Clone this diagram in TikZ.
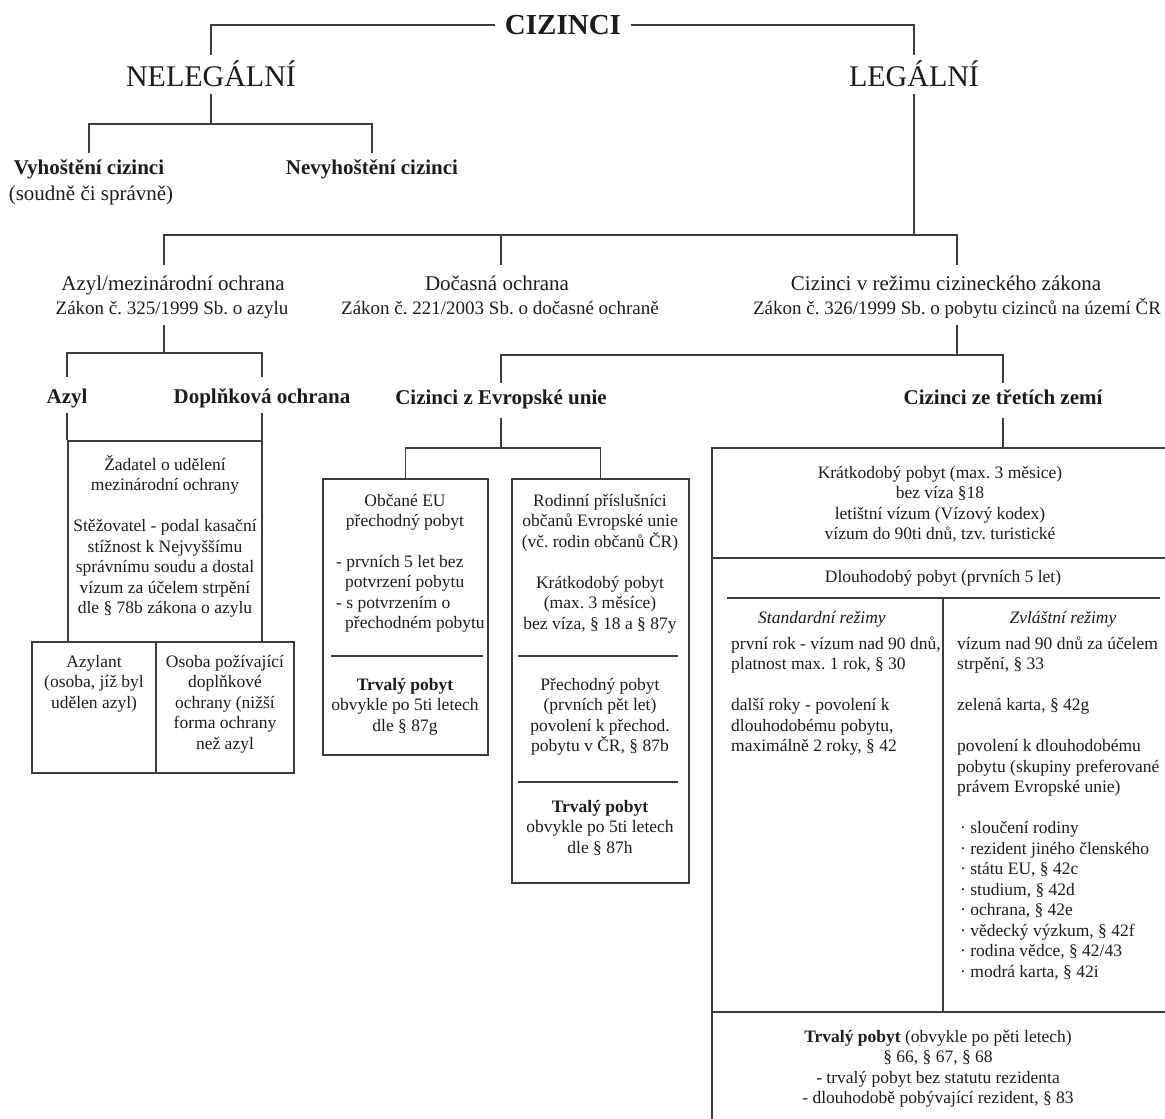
\documentclass[tikz,border=0pt]{standalone}
\usepackage{fontspec}
\setmainfont{Liberation Serif}
\frenchspacing
\newcommand{\mystrut}{\rule{0pt}{17pt}}
\definecolor{ln}{RGB}{60,60,60}
\definecolor{tx}{RGB}{28,28,28}
\begin{document}
\begin{tikzpicture}[x=1pt,y=-1pt,
  every node/.style={text=tx, inner sep=0pt},
  conn/.style={draw=ln, line width=1.5pt},
  box/.style={draw=ln, line width=1.5pt, rectangle, inner sep=0pt},
  body/.style={font=\fontsize{17.5}{20.5}\selectfont, align=center, anchor=north},
  bodyl/.style={font=\fontsize{17.5}{20.5}\selectfont, align=left, anchor=north west},
  huge/.style={font=\fontsize{30}{34}\selectfont, anchor=base, text height=31pt, text depth=8pt},
  hbold/.style={font=\fontsize{21}{25}\selectfont\bfseries, anchor=base},
  hreg/.style={font=\fontsize{21}{25}\selectfont, anchor=base},
  hlaw/.style={font=\fontsize{19}{23}\selectfont, anchor=base}
]
\useasboundingbox (0,0) rectangle (1165,1119);

% level 0/1
\node[font=\fontsize{29}{33}\selectfont\bfseries, anchor=center, text height=19.2pt, text depth=0pt, inner xsep=9.5pt] (ciz) at (563,25) {CIZINCI};
\node[huge] (nel) at (211,86) {NELEGÁLNÍ};
\node[huge] (leg) at (914,86) {LEGÁLNÍ};

% nelegalni
\node[hbold, text height=21pt, text depth=5pt] (vyh) at (89,174) {Vyhoštění cizinci};
\node[hreg] (vyh2) at (91,200) {(soudně či správně)};
\node[hbold, text height=21pt, text depth=5pt] (nevyh) at (372,174) {Nevyhoštění cizinci};

% level 3
\node[hreg, text height=25pt, text depth=5pt] (azh) at (173,290) {Azyl/mezinárodní ochrana};
\node[hlaw, text height=14pt, text depth=11pt] (azlaw) at (172,314) {Zákon č. 325/1999 Sb. o azylu};
\node[hreg, text height=25pt, text depth=5pt] (doc) at (497,290) {Dočasná ochrana};
\node[hlaw, text height=14pt, text depth=5pt] (doclaw) at (500,314) {Zákon č. 221/2003 Sb. o dočasné ochraně};
\node[hreg, text height=25pt, text depth=5pt] (cvr) at (946,290) {Cizinci v režimu cizineckého zákona};
\node[hlaw, text height=14pt, text depth=11pt] (cvrlaw) at (957,314) {Zákon č. 326/1999 Sb. o pobytu cizinců na území ČR};

% level 4
\node[hbold, text height=26pt, text depth=10pt] (azyl) at (67,403) {Azyl};
\node[hbold, text height=26pt, text depth=10pt] (dopl) at (262,403) {Doplňková ochrana};
\node[hbold, text height=21pt, text depth=14pt] (eu) at (501,404) {Cizinci z Evropské unie};
\node[hbold, text height=21pt, text depth=14pt] (tz) at (1003,404) {Cizinci ze třetích zemí};

% boxes
\node[box, minimum width=194pt, minimum height=201pt] (azbox) at (165,541.5) {};
\node[box, minimum width=124pt, minimum height=131pt] (azlant) at (94,707.5) {};
\node[box, minimum width=138pt, minimum height=131pt] (osoba) at (225,707.5) {};
\node[box, minimum width=165pt, minimum height=276pt] (box1) at (405.5,617) {};
\node[box, minimum width=177pt, minimum height=404pt] (box2) at (600.5,681) {};
\begin{scope}
\clip (0,0) rectangle (1165,1119);
\node[box, minimum width=473pt, minimum height=692pt] (tzbox) at (948.5,794) {};
\end{scope}

% box dividers
\draw[conn] (331,656) -- (483,656);
\draw[conn] (518,656) -- (678,656);
\draw[conn] (518,782) -- (678,782);
\draw[conn] (712,558) -- (1165,558);
\draw[conn] (727,598) -- (1160,598);
\draw[conn] (943,598) -- (943,1012);
\draw[conn] (712,1012) -- (1165,1012);

% connectors
\coordinate (j1) at (211,124);
\coordinate (j2) at (914,235);
\coordinate (j3) at (164,353);
\coordinate (j4) at (957,355);
\coordinate (j5) at (501,448);
\draw[conn] (ciz.west) -| (nel.north);
\draw[conn] (ciz.east) -| (leg.north);
\draw[conn] (nel.south) -- (j1);
\draw[conn] (vyh.north) |- (j1) -| (nevyh.north);
\draw[conn] (leg.south) -- (j2);
\draw[conn] ([xshift=-9pt]azh.north) |- (j2) -| ([xshift=11pt]cvr.north);
\draw[conn] ([xshift=4pt]doc.north) -- ([xshift=4pt]doc.north |- j2);
\draw[conn] ([xshift=-8pt]azlaw.south) -- (j3);
\draw[conn] (azyl.north) |- (j3) -| (dopl.north);
\draw[conn] (azyl.south) -- (azyl.south |- azbox.north);
\draw[conn] (dopl.south) -- (dopl.south |- azbox.north);
\draw[conn] (cvrlaw.south) -- (j4);
\draw[conn] (eu.north) |- (j4) -| (tz.north);
\draw[conn] (eu.south) -- (j5);
\draw[conn] (box1.north) |- (j5) -| (box2.north);
\draw[conn] (tz.south) -- (tz.south |- tzbox.north);

% texts in boxes
\node[body] (aztxt) at (165,453) {\mystrut Žadatel o udělení\\mezinárodní ochrany\\[20.5pt]Stěžovatel - podal kasační\\stížnost k Nejvyššímu\\správnímu soudu a dostal\\vízum za účelem strpění\\dle § 78b zákona o azylu};
\node[body] (alt) at (94,650) {\mystrut Azylant\\(osoba, jíž byl\\udělen azyl)};
\node[body] (ost) at (225,650) {\mystrut Osoba požívající\\doplňkové\\ochrany (nižší\\forma ochrany\\než azyl};

\node[body] (b1a) at (405,489) {\mystrut Občané EU\\přechodný pobyt};
\node[bodyl] (b1b) at (336,550) {\mystrut - prvních 5 let bez\\\hspace*{9pt}potvrzení pobytu\\- s potvrzením o\\\hspace*{9pt}přechodném pobytu};
\node[body] (b1c) at (405,673) {\mystrut\textbf{Trvalý pobyt}\\obvykle po 5ti letech\\dle § 87g};

\node[body] (b2a) at (600,489) {\mystrut Rodinní příslušníci\\občanů Evropské unie\\(vč. rodin občanů ČR)\\[20.5pt]Krátkodobý pobyt\\(max. 3 měsíce)\\bez víza, § 18 a § 87y};
\node[body] (b2b) at (600,673) {\mystrut Přechodný pobyt\\(prvních pět let)\\povolení k přechod.\\pobytu v ČR, § 87b};
\node[body] (b2c) at (600,795) {\mystrut\textbf{Trvalý pobyt}\\obvykle po 5ti letech\\dle § 87h};

\node[body] (t1) at (940,461) {\mystrut Krátkodobý pobyt (max. 3 měsice)\\bez víza §18\\letištní vízum (Vízový kodex)\\vízum do 90ti dnů, tzv. turistické};
\node[body] (t2) at (943,565) {\mystrut Dlouhodobý pobyt (prvních 5 let)};
\node[body] (t3l) at (822,606) {\mystrut\textit{Standardní režimy}};
\node[body] (t3r) at (1063,606) {\mystrut\textit{Zvláštní režimy}};
\node[bodyl] (t4l) at (731,632) {\mystrut první rok - vízum nad 90 dnů,\\platnost max. 1 rok, § 30\\[20.5pt]další roky - povolení k\\dlouhodobému pobytu,\\maximálně 2 roky, § 42};
\node[bodyl] (t4r) at (957,632) {\mystrut vízum nad 90 dnů za účelem\\strpění, § 33\\[20.5pt]zelená karta, § 42g\\[20.5pt]povolení k dlouhodobému\\pobytu (skupiny preferované\\právem Evropské unie)\\[20.5pt]\hspace*{3pt}· sloučení rodiny\\\hspace*{3pt}· rezident jiného členského\\\hspace*{3pt}· státu EU, § 42c\\\hspace*{3pt}· studium, § 42d\\\hspace*{3pt}· ochrana, § 42e\\\hspace*{3pt}· vědecký výzkum, § 42f\\\hspace*{3pt}· rodina vědce, § 42/43\\\hspace*{3pt}· modrá karta, § 42i};
\node[body] (t5) at (938,1025) {\mystrut\textbf{Trvalý pobyt} (obvykle po pěti letech)\\§ 66, § 67, § 68\\- trvalý pobyt bez statutu rezidenta\\- dlouhodobě pobývající rezident, § 83};
\end{tikzpicture}
\end{document}
